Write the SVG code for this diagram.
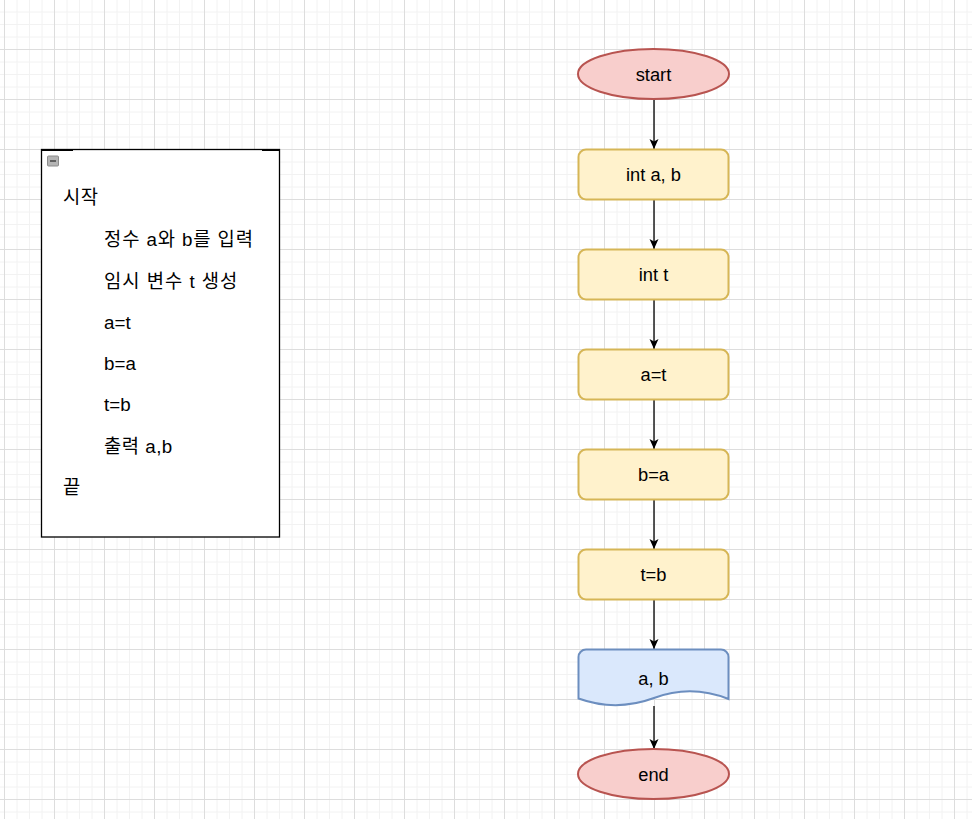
<svg xmlns="http://www.w3.org/2000/svg" width="972" height="819" viewBox="0 0 972 819">
<defs>
<pattern id="grid" x="4" y="-1" width="50" height="50" patternUnits="userSpaceOnUse">
<path d="M13 0V50M25.5 0V50M38 0V50M0 13H50M0 25.5H50M0 38H50" stroke="#f2f2f2" stroke-width="1" fill="none"/>
<path d="M0.5 0V50M0 0.5H50" stroke="#dddddd" stroke-width="1" fill="none"/>
</pattern>
<marker id="arr" viewBox="0 0 10 10" refX="10" refY="5" markerWidth="10" markerHeight="10" markerUnits="userSpaceOnUse" orient="auto">
<path d="M0,0.5 L10,5 L0,9.5 L2.5,5 Z" fill="#000"/>
</marker>
<style>
.term{fill:#f8cecc;stroke:#b85450;stroke-width:2}
.proc{fill:#fff2cc;stroke:#d6b656;stroke-width:2}
.doc{fill:#dae8fc;stroke:#6c8ebf;stroke-width:2}
.lbl{font-family:"Liberation Sans",Arial,sans-serif;font-size:18.3px;fill:#000;text-anchor:middle;dominant-baseline:central}
.lst{font-family:"Liberation Sans","Noto Sans CJK KR",sans-serif;font-size:18.75px;fill:#000}
.edge{stroke:#000;stroke-width:1.3;fill:none;marker-end:url(#arr)}
</style>
</defs>
<rect width="972" height="819" fill="#ffffff"/>
<rect width="972" height="819" fill="url(#grid)"/>

<g id="pseudocode">
<rect x="41.5" y="149.5" width="238" height="387.5" fill="#ffffff" stroke="#000" stroke-width="1.3"/>
<path d="M41.5 150H73M262 150H279.5" stroke="#000" stroke-width="2.2"/>
<rect x="47.5" y="156" width="11" height="10" rx="1" fill="#b4b4b4" stroke="#8c8c8c" stroke-width="1"/>
<path d="M50 161H56" stroke="#444" stroke-width="1.5"/>
<text class="lst" x="63" y="204" letter-spacing="0.5">시작</text>
<text class="lst" x="104" y="246" letter-spacing="0.9">정수 a와 b를 입력</text>
<text class="lst" x="104" y="288" letter-spacing="1">임시 변수 t 생성</text>
<text class="lst" x="104" y="329">a=t</text>
<text class="lst" x="104" y="370">b=a</text>
<text class="lst" x="104" y="411">t=b</text>
<text class="lst" x="104" y="452.5" letter-spacing="0.5">출력 a,b</text>
<text class="lst" x="63" y="494">끝</text>
</g>

<g id="connectors">
<path class="edge" d="M654 99.5V149"/>
<path class="edge" d="M654 199.5V249"/>
<path class="edge" d="M654 299.5V349"/>
<path class="edge" d="M654 399.5V449"/>
<path class="edge" d="M654 499.5V549"/>
<path class="edge" d="M654 599.5V649"/>
<path class="edge" d="M654 706V749"/>
</g>

<g id="start">
<ellipse class="term" cx="653.5" cy="74" rx="75.5" ry="25"/>
<text class="lbl" x="653.5" y="74">start</text>
</g>
<g id="n-int-ab">
<rect class="proc" x="578.5" y="149.5" width="150" height="50" rx="7.5"/>
<text class="lbl" x="653.5" y="174.5">int a, b</text>
</g>
<g id="n-int-t">
<rect class="proc" x="578.5" y="249.5" width="150" height="50" rx="7.5"/>
<text class="lbl" x="653.5" y="274.5">int t</text>
</g>
<g id="n-a-t">
<rect class="proc" x="578.5" y="349.5" width="150" height="50" rx="7.5"/>
<text class="lbl" x="653.5" y="374.5">a=t</text>
</g>
<g id="n-b-a">
<rect class="proc" x="578.5" y="449.5" width="150" height="50" rx="7.5"/>
<text class="lbl" x="653.5" y="474.5">b=a</text>
</g>
<g id="n-t-b">
<rect class="proc" x="578.5" y="549.5" width="150" height="50" rx="7.5"/>
<text class="lbl" x="653.5" y="574.5">t=b</text>
</g>
<g id="output">
<path class="doc" d="M578.5 657A7.5 7.5 0 0 1 586 649.5H721A7.5 7.5 0 0 1 728.5 657V699Q691 684 654 698Q616 712 578.5 698.5Z"/>
<text class="lbl" x="653.5" y="678">a, b</text>
</g>
<g id="end">
<ellipse class="term" cx="653.5" cy="774" rx="75.5" ry="25"/>
<text class="lbl" x="653.5" y="774">end</text>
</g>
</svg>
